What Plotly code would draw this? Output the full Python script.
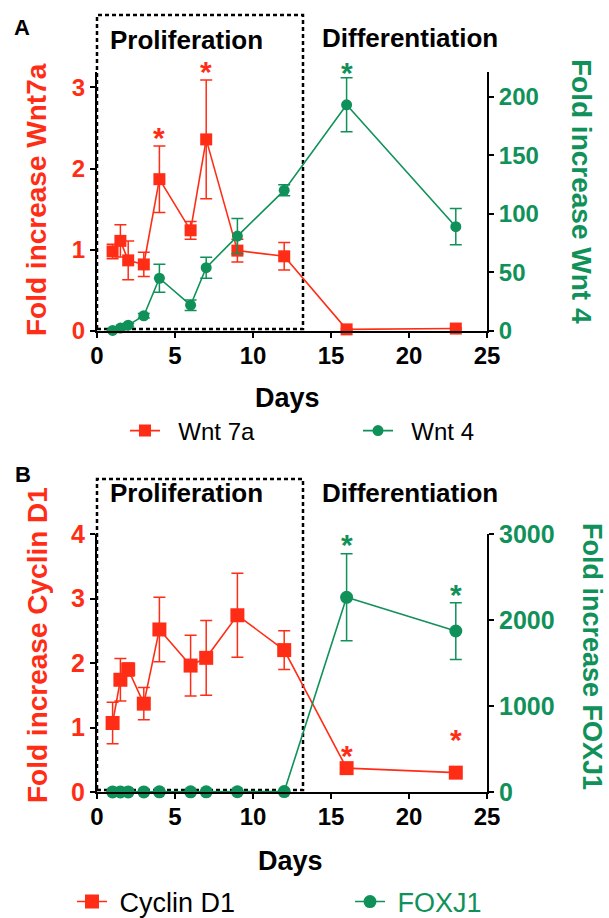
import plotly.graph_objects as go

# ---------------- data ----------------
days = [1, 1.5, 2, 3, 4, 6, 7, 9, 12, 16, 23]

wnt7a = [0.98, 1.11, 0.87, 0.82, 1.87, 1.24, 2.36, 0.99, 0.92, 0.02, 0.03]
wnt7a_err = [0.09, 0.20, 0.24, 0.15, 0.41, 0.11, 0.73, 0.14, 0.17, 0.01, 0.01]
wnt4 = [0.5, 2.5, 5, 13, 45, 22, 54, 81, 120, 193, 89]
wnt4_err = [0.5, 1, 1.5, 2, 12, 4.5, 9, 15, 4.7, 23, 15.5]

cyclin = [1.07, 1.74, 1.90, 1.37, 2.52, 1.96, 2.08, 2.74, 2.20, 0.37, 0.30]
cyclin_err = [0.32, 0.33, 0.10, 0.25, 0.50, 0.47, 0.58, 0.65, 0.30, 0.03, 0.03]
foxj1 = [1, 1, 1, 1, 2, 2, 2, 3, 5, 2264, 1872]
foxj1_err = [0, 0, 0, 0, 0, 0, 0, 0, 0, 505, 330]

# significance marks: (day, value just below which the asterisk sits)
sig_wnt7a = [(4, 2.27), (7, 3.09)]
sig_wnt4 = [(16, 213)]
sig_cyclin = [(16, 0.42), (23, 0.67)]
sig_foxj1 = [(16, 2771), (23, 2190)]

x_ticks = [0, 5, 10, 15, 20, 25]

RED = "#FF2D16"
GREEN = "#11915A"
FONT = "Liberation Sans, Arial, sans-serif"

W, H = 609, 918
ML, MR = 97, 122
PW = W - ML - MR


def px_x(p):
    return (p - ML) / PW


def px_y(p):
    return 1 - p / H


fig = go.Figure()

# ---------- panel A ----------
fig.add_trace(go.Scatter(
    x=days, y=wnt7a, name="\u00a0\u00a0Wnt 7a", mode="lines+markers",
    line=dict(color=RED, width=1.6),
    marker=dict(symbol="square", size=12, color=RED),
    error_y=dict(type="data", array=wnt7a_err, visible=True, color=RED, thickness=1.5, width=6),
    xaxis="x", yaxis="y", cliponaxis=False, legend="legend"))
fig.add_trace(go.Scatter(
    x=days, y=wnt4, name="\u00a0\u00a0Wnt 4", mode="lines+markers",
    line=dict(color=GREEN, width=1.6),
    marker=dict(symbol="circle", size=11, color=GREEN),
    error_y=dict(type="data", array=wnt4_err, visible=True, color=GREEN, thickness=1.5, width=6),
    xaxis="x", yaxis="y2", cliponaxis=False, legend="legend2"))

# ---------- panel B ----------
fig.add_trace(go.Scatter(
    x=days, y=cyclin, name="\u00a0Cyclin D1", mode="lines+markers",
    line=dict(color=RED, width=1.6),
    marker=dict(symbol="square", size=14, color=RED),
    error_y=dict(type="data", array=cyclin_err, visible=True, color=RED, thickness=1.5, width=6),
    xaxis="x2", yaxis="y3", cliponaxis=False, legend="legend3"))
fig.add_trace(go.Scatter(
    x=days, y=foxj1, name="<span style='color:%s'>\u00a0FOXJ1</span>" % GREEN, mode="lines+markers",
    line=dict(color=GREEN, width=1.6),
    marker=dict(symbol="circle", size=13, color=GREEN),
    error_y=dict(type="data", array=foxj1_err, visible=True, color=GREEN, thickness=1.5, width=6),
    xaxis="x2", yaxis="y4", cliponaxis=False, legend="legend4"))

axis_common = dict(showline=True, linecolor="black", linewidth=2, ticks="outside",
                   tickcolor="black", tickwidth=2, ticklen=5, showgrid=False, zeroline=False)

domA = [px_y(331), px_y(72)]
domB = [px_y(792), px_y(534)]

fig.update_layout(
    width=W, height=H,
    margin=dict(l=ML, r=MR, t=0, b=0, autoexpand=False),
    paper_bgcolor="white", plot_bgcolor="rgba(0,0,0,0)",
    font=dict(family=FONT, color="black"),
    xaxis=dict(domain=[0, 1], anchor="y", range=[0, 25], tickvals=x_ticks, ticklabelstandoff=-3,
               tickfont=dict(size=24, color="black", weight="bold"), **axis_common),
    yaxis=dict(domain=domA, anchor="x", range=[0, 3.19], tickvals=[0, 1, 2, 3],
               tickfont=dict(size=24, color=RED, weight="bold"), **axis_common),
    yaxis2=dict(overlaying="y", side="right", anchor="x", range=[0, 221],
                tickvals=[0, 50, 100, 150, 200],
                tickfont=dict(size=24, color=GREEN, weight="bold"), **axis_common),
    xaxis2=dict(domain=[0, 1], anchor="y3", range=[0, 25], tickvals=x_ticks, ticklabelstandoff=-3,
                tickfont=dict(size=24, color="black", weight="bold"), **axis_common),
    yaxis3=dict(domain=domB, anchor="x2", range=[0, 4], tickvals=[0, 1, 2, 3, 4],
                tickfont=dict(size=25, color=RED, weight="bold"), **axis_common),
    yaxis4=dict(overlaying="y3", side="right", anchor="x2", range=[0, 3000],
                tickvals=[0, 1000, 2000, 3000],
                tickfont=dict(size=25, color=GREEN, weight="bold"), **axis_common),
    legend=dict(x=px_x(145 - 20), y=px_y(431), xanchor="left", yanchor="middle",
                font=dict(size=24, color="black"), bgcolor="rgba(0,0,0,0)"),
    legend2=dict(x=px_x(378 - 20), y=px_y(431), xanchor="left", yanchor="middle",
                 font=dict(size=24, color="black"), bgcolor="rgba(0,0,0,0)"),
    legend3=dict(x=px_x(92 - 20), y=px_y(902), xanchor="left", yanchor="middle",
                 font=dict(size=27, color="black"), bgcolor="rgba(0,0,0,0)"),
    legend4=dict(x=px_x(370 - 20), y=px_y(902), xanchor="left", yanchor="middle",
                 font=dict(size=27, color="black"), bgcolor="rgba(0,0,0,0)"),
    showlegend=True,
)

# dashed "Proliferation" boxes
for top, bot in [(15, 329), (479, 790)]:
    fig.add_shape(type="rect", xref="paper", yref="paper",
                  x0=0, x1=px_x(303), y0=px_y(bot), y1=px_y(top),
                  line=dict(color="black", width=2.5, dash="4px,3px"), layer="below")

ann = []


def text(x, y, s, size, color="black", angle=0, bold=True):
    ann.append(dict(xref="paper", yref="paper", x=px_x(x), y=px_y(y),
                    text=("<b>%s</b>" % s) if bold else s, showarrow=False,
                    textangle=angle, xanchor="center", yanchor="middle",
                    font=dict(size=size, color=color, family=FONT)))


text(22, 28, "A", 22)
text(23, 474, "B", 22)
text(186.5, 40, "Proliferation", 26)
text(410, 38, "Differentiation", 26)
text(186.5, 493, "Proliferation", 26)
text(410, 493, "Differentiation", 26)
text(36, 200, "Fold increase Wnt7a", 28, RED, -90)
text(581, 191, "Fold increase Wnt 4", 28, GREEN, 90)
text(37, 645, "Fold increase Cyclin D1", 28, RED, -90)
text(592, 656, "Fold increase FOXJ1", 27, GREEN, 90)
text(287, 398, "Days", 27)
text(290, 861, "Days", 27)

for lst, xr, yr, col in [(sig_wnt7a, "x", "y", RED), (sig_wnt4, "x", "y2", GREEN),
                         (sig_cyclin, "x2", "y3", RED), (sig_foxj1, "x2", "y4", GREEN)]:
    for d, v in lst:
        ann.append(dict(xref=xr, yref=yr, x=d, y=v, text="<b>*</b>", showarrow=False,
                        xanchor="center", yanchor="middle", yshift=9,
                        font=dict(size=30, color=col, family=FONT)))

fig.update_layout(annotations=ann)

fig.write_html("out.html", post_script="document.body.style.margin='0px';",
               config={"displayModeBar": False})
